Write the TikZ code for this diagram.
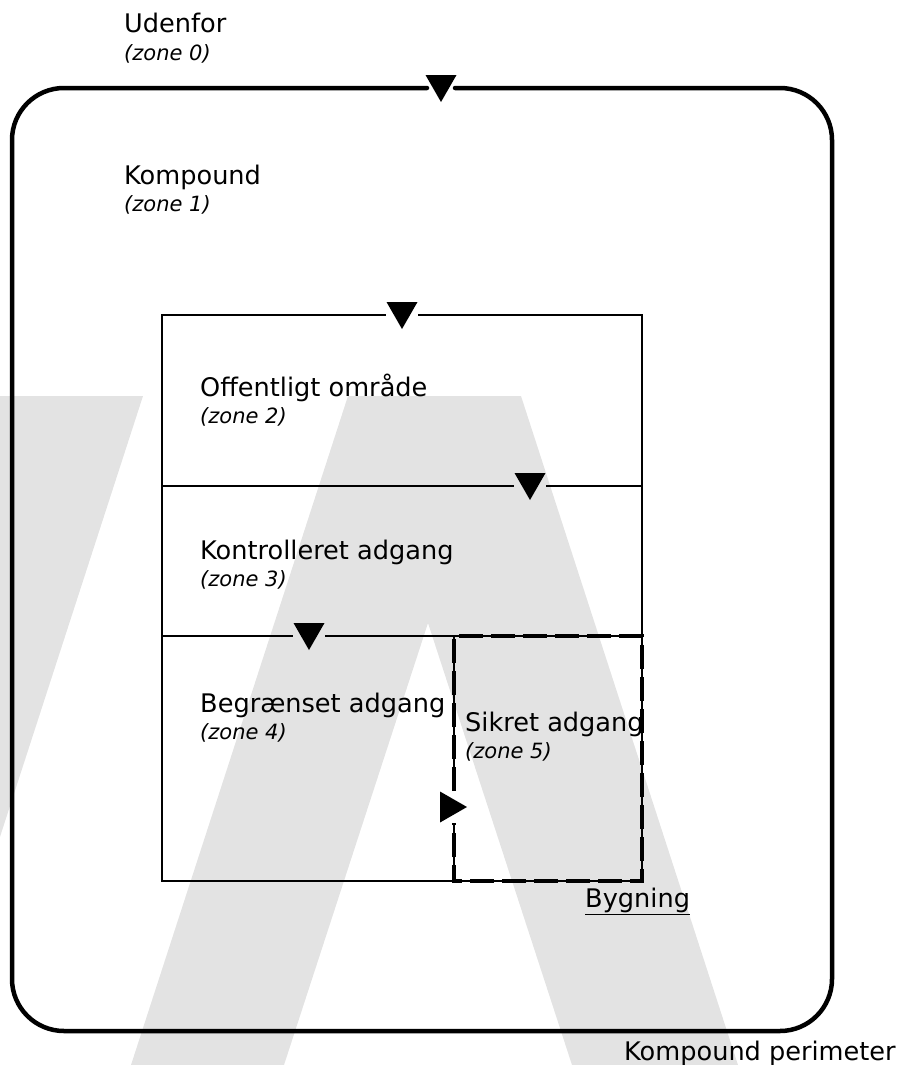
\documentclass[tikz,border=0pt]{standalone}
\usepackage{fontspec}
\setmainfont{DejaVu Sans}
\usepackage{tikz}
\usetikzlibrary{positioning}
\definecolor{logogrey}{RGB}{227,227,227}

\begin{document}
\begin{tikzpicture}[x=1pt, y=-1pt,
        zonename/.style={anchor=base west, inner sep=0pt, font=\fontsize{25.6}{30}\selectfont},
        zonenum/.style={anchor=base west, inner sep=0pt, font=\fontsize{21}{25}\selectfont\itshape},
        perimeter/.style={line width=4.5pt, line cap=round},
        wall/.style={line width=2pt},
        building/.style={line width=3.5pt, dash pattern=on 24pt off 8pt},
        door/.style={fill=black}]
                \useasboundingbox (0,0) rectangle (901,1065);
                \begin{scope}
                    \clip (0,0) rectangle (901,1065);
                    \fill[logogrey] (-20,396) -- (143,396) -- (-74,1065) -- (-240,1065) -- cycle;
                    \fill[logogrey, even odd rule] (348,396) -- (521,396) -- (738,1065) -- (131,1065) -- cycle
                        (428,623) -- (572,1065) -- (284,1065) -- cycle;
                \end{scope}

                \draw[perimeter, rounded corners=52pt] (455,88) -- (832,88) -- (832,1031) -- (12,1031) -- (12,88) -- (427,88);
                \fill[door] (425.5,75) -- (456.5,75) -- (441,102) -- cycle;

                \draw[wall] (418,315) -- (642,315) -- (642,881) -- (162,881) -- (162,315) -- (386,315);
                \draw[wall] (162,486) -- (514,486) (546,486) -- (642,486);
                \draw[wall] (162,636) -- (293,636) (325,636) -- (642,636);
                \draw[wall] (454,636) -- (454,791) (454,823) -- (454,881);
                \draw[building] (454,791) -- (454,636) -- (642,636) -- (642,881) -- (454,881) -- (454,823);
                \fill[door] (386.5,302) -- (417.5,302) -- (402,329) -- cycle;
                \fill[door] (514.5,473) -- (545.5,473) -- (530,500) -- cycle;
                \fill[door] (293.5,623) -- (324.5,623) -- (309,650) -- cycle;
                \fill[door] (440,791.5) -- (440,822.5) -- (467,807) -- cycle;

                \node[zonename] (udenfor) at (124,33) {Udenfor};
                \node[zonenum, below=27pt of udenfor.base west, anchor=base west] (z0) {(zone 0)};
                \node[zonename] (kompound) at (124,184) {Kompound};
                \node[zonenum, below=27pt of kompound.base west, anchor=base west] (z1) {(zone 1)};
                \node[zonename] (offentlig) at (200,396) {Offentligt område};
                \node[zonenum, below=27pt of offentlig.base west, anchor=base west] (z2) {(zone 2)};
                \node[zonename] (kontrol) at (200,559) {Kontrolleret adgang};
                \node[zonenum, below=27pt of kontrol.base west, anchor=base west] (z3) {(zone 3)};
                \node[zonename] (begr) at (200,712) {Begrænset adgang};
                \node[zonenum, below=27pt of begr.base west, anchor=base west] (z4) {(zone 4)};
                \node[zonename] (sikret) at (465,731) {Sikret adgang};
                \node[zonenum, below=27pt of sikret.base west, anchor=base west] (z5) {(zone 5)};
                \node[zonename] (bygning) at (585,907) {\underline{Bygning}};
                \node[zonename] (perim) at (624,1060) {Kompound perimeter};
            \end{tikzpicture}
\end{document}
